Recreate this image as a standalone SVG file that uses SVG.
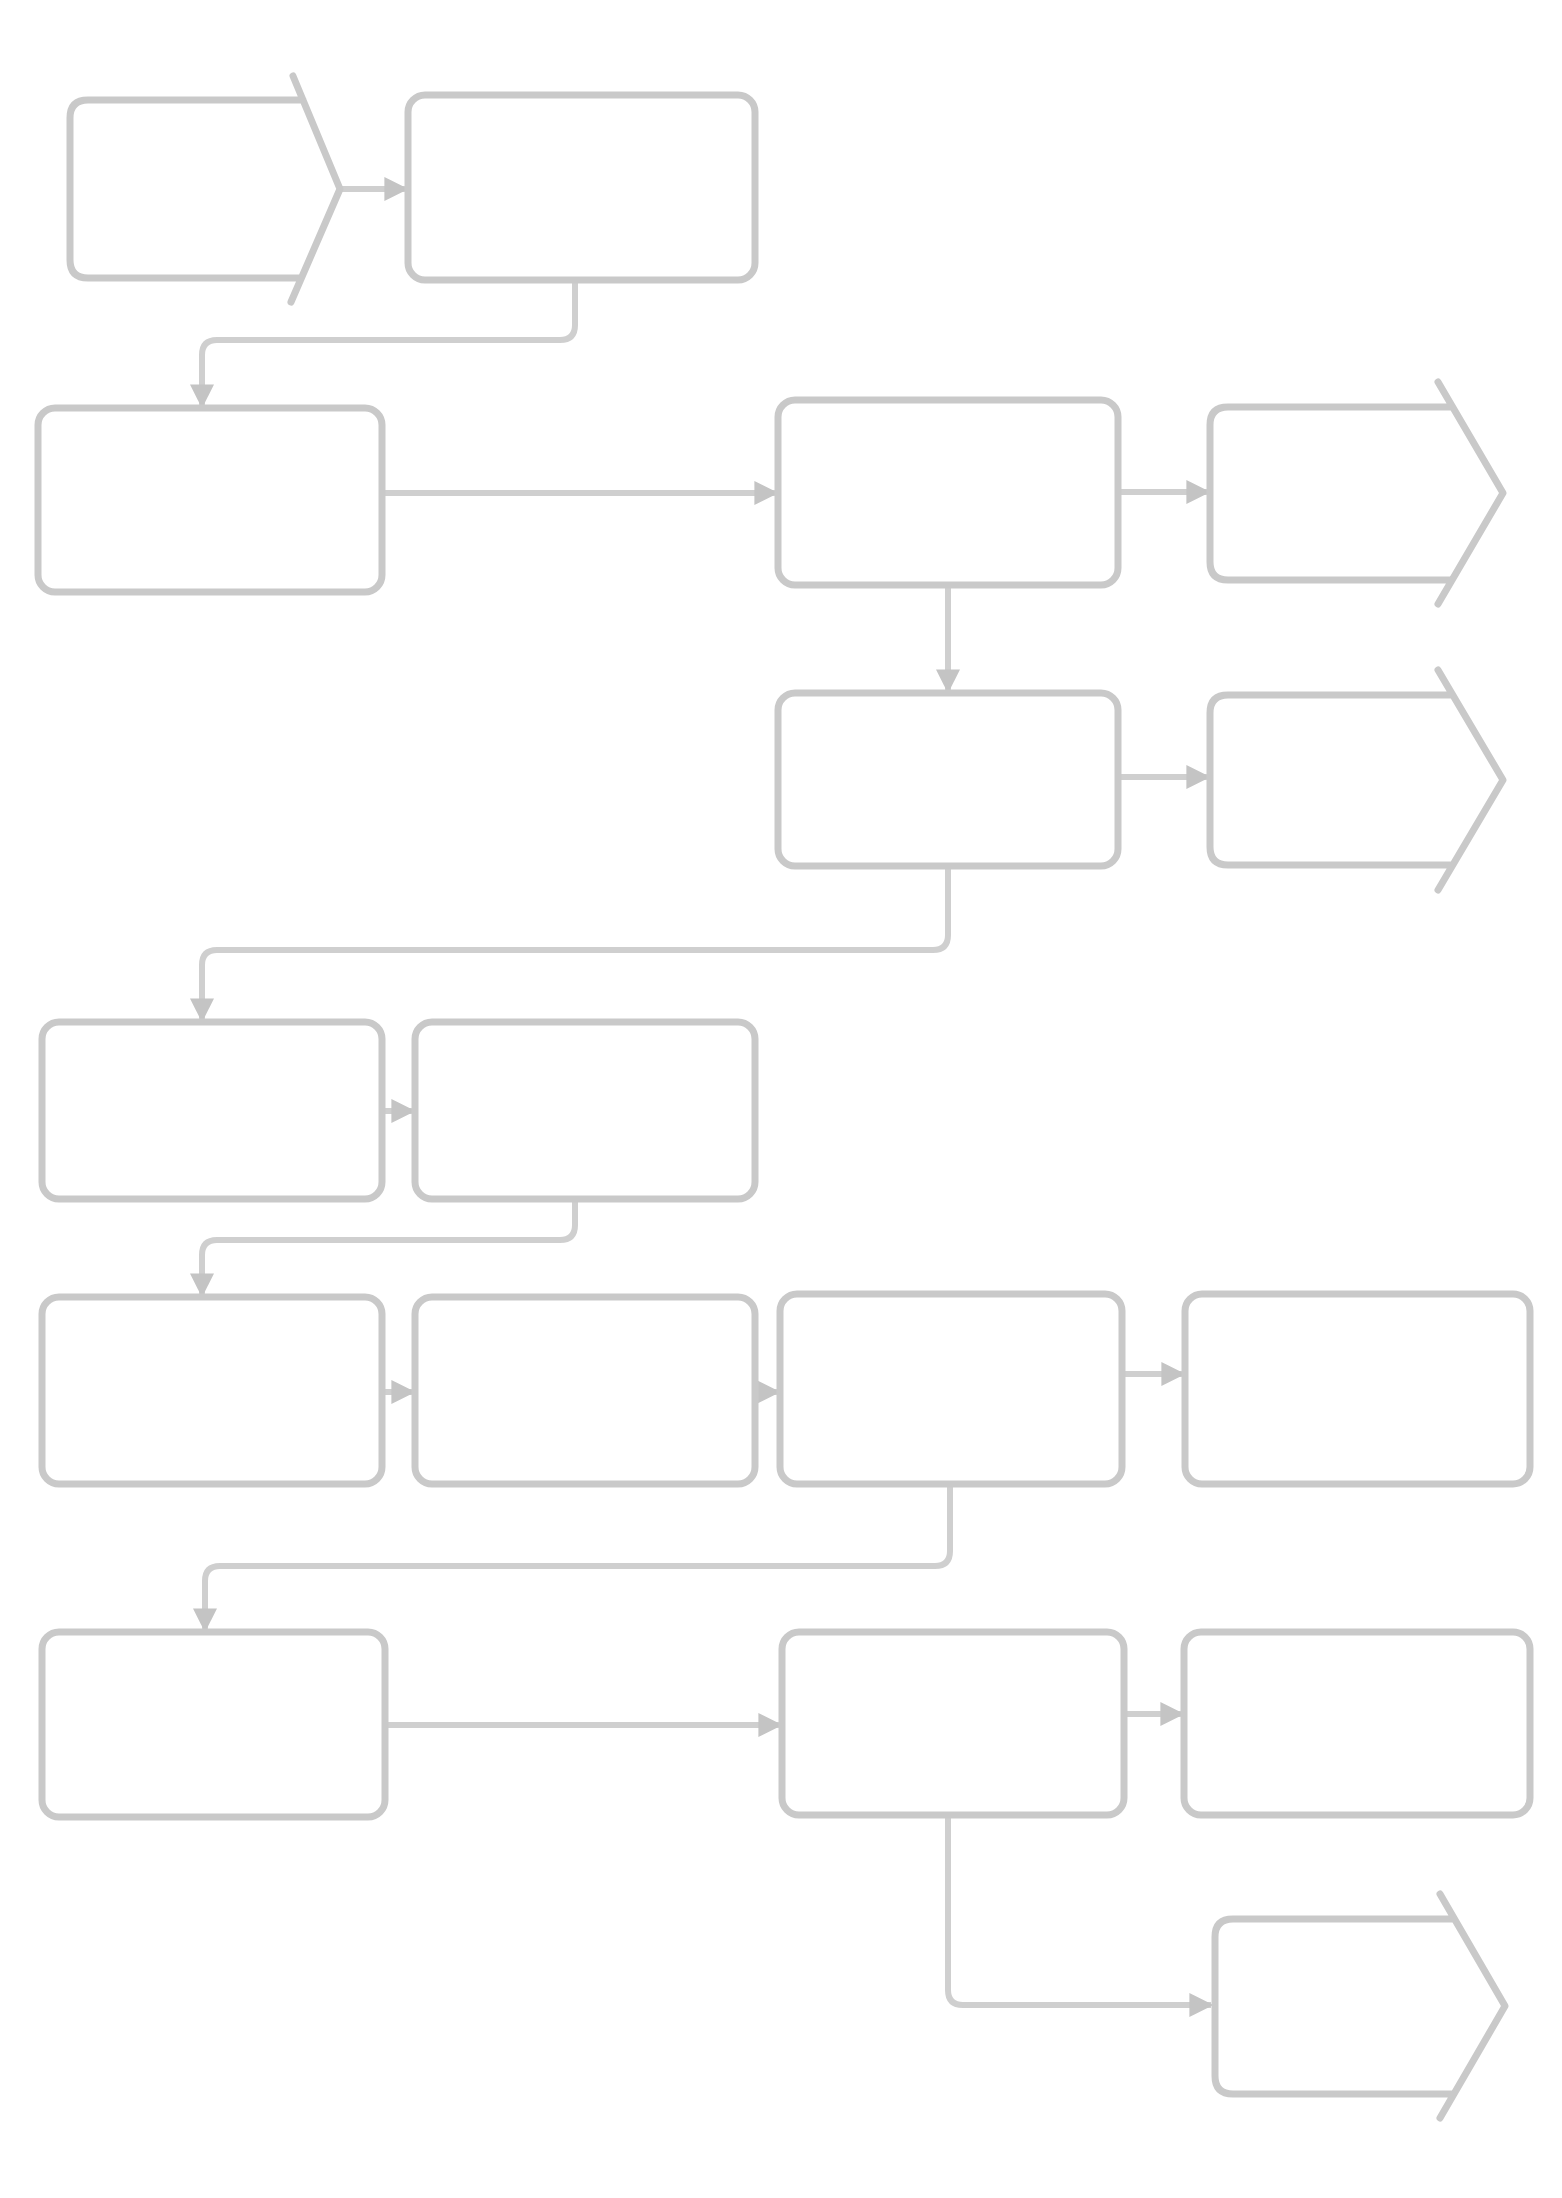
<svg xmlns="http://www.w3.org/2000/svg" width="1562" height="2198" viewBox="0 0 1562 2198">
  <style>
    .box { fill: #ffffff; stroke: #c9c9c9; stroke-width: 7; }
    .goto { fill: none; stroke: #c9c9c9; stroke-width: 7; stroke-linejoin: round; stroke-linecap: round; }
    .wire { fill: none; stroke: #cfcfcf; stroke-width: 6; stroke-linejoin: round; }
  </style>
  <defs>
    <marker id="arrow" viewBox="0 0 10 10" refX="9" refY="5" markerWidth="4" markerHeight="4" orient="auto" markerUnits="strokeWidth">
      <path d="M0,0 L10,5 L0,10 z" fill="#c4c4c4"/>
    </marker>
  </defs>
  <rect width="1562" height="2198" fill="#ffffff"/>

  <g id="connectors">
    <path class="wire" marker-end="url(#arrow)" d="M340,189 H406"/>
    <path class="wire" marker-end="url(#arrow)" d="M575,280 V325 Q575,340 560,340 H217 Q202,340 202,355 V406"/>
    <path class="wire" marker-end="url(#arrow)" d="M382,493 H776"/>
    <path class="wire" marker-end="url(#arrow)" d="M1118,492 H1208"/>
    <path class="wire" marker-end="url(#arrow)" d="M948,585 V691"/>
    <path class="wire" marker-end="url(#arrow)" d="M1118,777 H1208"/>
    <path class="wire" marker-end="url(#arrow)" d="M948,866 V935 Q948,950 933,950 H217 Q202,950 202,965 V1020"/>
    <path class="wire" marker-end="url(#arrow)" d="M382,1111 H413"/>
    <path class="wire" marker-end="url(#arrow)" d="M575,1199 V1225 Q575,1240 560,1240 H217 Q202,1240 202,1255 V1295"/>
    <path class="wire" marker-end="url(#arrow)" d="M382,1392 H413"/>
    <path class="wire" marker-end="url(#arrow)" d="M755,1392 H778"/>
    <path class="wire" marker-end="url(#arrow)" d="M1122,1374 H1183"/>
    <path class="wire" marker-end="url(#arrow)" d="M950,1484 V1551 Q950,1566 935,1566 H220 Q205,1566 205,1581 V1630"/>
    <path class="wire" marker-end="url(#arrow)" d="M385,1725 H780"/>
    <path class="wire" marker-end="url(#arrow)" d="M1124,1714 H1182"/>
    <path class="wire" marker-end="url(#arrow)" d="M948,1815 V1990 Q948,2005 963,2005 H1211"/>
  </g>

  <g id="node-a">
    <path class="goto" d="M293,76 L340,189 L291,302 M301,278 H88 Q70,278 70,260 V118 Q70,100 88,100 H303"/>
  </g>
  <g id="node-b">
    <rect class="box" x="408" y="95" width="347" height="185" rx="17"/>
  </g>
  <g id="node-c">
    <rect class="box" x="38" y="408" width="344" height="184" rx="17"/>
  </g>
  <g id="node-d">
    <rect class="box" x="778" y="400" width="340" height="185" rx="17"/>
  </g>
  <g id="node-e">
    <path class="goto" d="M1438,382 L1503,493 L1438,604 M1450,580 H1228 Q1210,580 1210,562 V425 Q1210,407 1228,407 H1452"/>
  </g>
  <g id="node-f">
    <rect class="box" x="778" y="693" width="340" height="173" rx="17"/>
  </g>
  <g id="node-g">
    <path class="goto" d="M1438,670 L1503,780 L1438,890 M1450,865 H1228 Q1210,865 1210,847 V713 Q1210,695 1228,695 H1452"/>
  </g>
  <g id="node-h">
    <rect class="box" x="42" y="1022" width="340" height="177" rx="17"/>
  </g>
  <g id="node-i">
    <rect class="box" x="415" y="1022" width="340" height="177" rx="17"/>
  </g>
  <g id="node-j">
    <rect class="box" x="42" y="1297" width="340" height="187" rx="17"/>
  </g>
  <g id="node-k">
    <rect class="box" x="415" y="1297" width="340" height="187" rx="17"/>
  </g>
  <g id="node-l">
    <rect class="box" x="780" y="1294" width="342" height="190" rx="17"/>
  </g>
  <g id="node-m">
    <rect class="box" x="1185" y="1294" width="345" height="190" rx="17"/>
  </g>
  <g id="node-n">
    <rect class="box" x="42" y="1632" width="343" height="185" rx="17"/>
  </g>
  <g id="node-o">
    <rect class="box" x="782" y="1632" width="342" height="183" rx="17"/>
  </g>
  <g id="node-p">
    <rect class="box" x="1184" y="1632" width="346" height="183" rx="17"/>
  </g>
  <g id="node-q">
    <path class="goto" d="M1440,1894 L1505,2006 L1440,2118 M1452,2094 H1233 Q1215,2094 1215,2076 V1937 Q1215,1919 1233,1919 H1454"/>
  </g>
</svg>
